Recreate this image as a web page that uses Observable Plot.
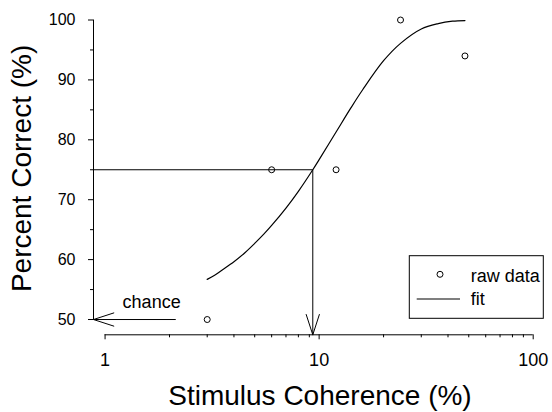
<!DOCTYPE html>
<html>
<head>
<meta charset="utf-8">
<script src="https://cdn.jsdelivr.net/npm/d3@7"></script>
<script src="https://cdn.jsdelivr.net/npm/@observablehq/plot@0.6"></script>
<style>
  html, body { margin: 0; padding: 0; background: #fff; }
  svg { display: block; }
</style>
</head>
<body>
<div id="chart"></div>
<script>
// ---- data ----
const coherence = [3, 6, 12, 24, 48];
const percentCorrect = [50, 75, 75, 100, 94];

const fitCoherence = [3, 3.25, 3.5, 4, 4.5, 5, 5.5, 6, 7, 8, 9.34, 10, 12, 14, 16, 20, 24, 30, 36, 42, 48];
const fitPercent   = [56.7, 57.4, 58.2, 59.65, 61.15, 62.7, 64.2, 65.7, 68.6, 71.4, 75.0, 76.7, 81.3, 85.2, 88.4, 93.2, 96.1, 98.5, 99.4, 99.8, 99.9];

const threshold = 9.34;
const thresholdLevel = 75;
const chanceLevel = 50;
const chanceArrowStart = 2.13;
const chanceLabel = "chance";
const chanceLabelX = 1.65;
const chanceLabelY = 52.85;

const xMajorTicks = [1, 10, 100];
const xMinorTicks = [2, 3, 4, 5, 6, 7, 8, 9, 20, 30, 40, 50, 60, 70, 80, 90];
const yMajorTicks = [50, 60, 70, 80, 90, 100];
const yMinorTicks = [55, 65, 75, 85, 95];

const xTitle = "Stimulus Coherence (%)";
const yTitle = "Percent Correct (%)";
const legendLabels = ["raw data", "fit"];

const xDomain = [0.883, 100];
const yDomain = [47.45, 100];

// ---- tables ----
const points = coherence.map((c, i) => ({c, p: percentCorrect[i]}));
const fit = fitCoherence.map((c, i) => ({c, p: fitPercent[i]}));

const font = "'Liberation Sans', Arial, Helvetica, sans-serif";

const chart = Plot.plot({
  width: 552,
  height: 412,
  marginLeft: 93,
  marginRight: 19.3,
  marginTop: 19.5,
  marginBottom: 77.7,
  style: {fontFamily: font, background: "#fff", color: "#000", overflow: "visible"},
  x: {type: "log", domain: xDomain},
  y: {domain: yDomain},
  marks: [
    // y axis
    Plot.axisY(yMajorTicks, {tickSize: 5, tickPadding: 13, fontSize: 16, label: null, tickFormat: d => String(d), stroke: "#000", strokeWidth: 1}),
    Plot.axisY(yMinorTicks, {tickSize: 3, tickFormat: () => "", label: null, stroke: "#000", strokeWidth: 1}),
    Plot.ruleX([xDomain[0]], {y1: 50, y2: 100, stroke: "#000", strokeWidth: 1}),
    // x axis
    Plot.axisX(xMajorTicks, {tickSize: 5, tickPadding: 13, fontSize: 18, label: null, tickFormat: d => String(d), stroke: "#000", strokeWidth: 1}),
    Plot.axisX(xMinorTicks, {tickSize: 3, tickFormat: () => "", label: null, stroke: "#000", strokeWidth: 1}),
    Plot.ruleY([yDomain[0]], {x1: 1, x2: 100, stroke: "#000", strokeWidth: 1}),
    // axis titles
    Plot.text([xTitle], {text: d => d, frameAnchor: "bottom", textAnchor: "middle", lineAnchor: "middle", dx: 6.6, dy: 61, fontSize: 28, fill: "#000"}),
    Plot.text([yTitle], {text: d => d, frameAnchor: "left", textAnchor: "middle", lineAnchor: "middle", rotate: -90, dx: -71.5, dy: -9, fontSize: 28, fill: "#000"}),
    // threshold lines
    Plot.ruleY([thresholdLevel], {x1: xDomain[0], x2: threshold, stroke: "#000", strokeWidth: 1}),
    Plot.arrow([{x: threshold}], {x1: "x", x2: "x", y1: thresholdLevel, y2: yDomain[0], headLength: 32, headAngle: 36, stroke: "#000", strokeWidth: 1}),
    // chance arrow
    Plot.arrow([{y: chanceLevel}], {x1: chanceArrowStart, x2: xDomain[0], y1: "y", y2: "y", headLength: 32, headAngle: 36, stroke: "#000", strokeWidth: 1}),
    Plot.text([{x: chanceLabelX, y: chanceLabelY, t: chanceLabel}], {x: "x", y: "y", text: "t", fontSize: 18, fill: "#000"}),
    // fit curve
    Plot.line(fit, {x: "c", y: "p", curve: "catmull-rom", stroke: "#000", strokeWidth: 1.2}),
    // raw data
    Plot.dot(points, {x: "c", y: "p", r: 3, stroke: "#000", fill: "none", strokeWidth: 1})
  ]
});

document.getElementById("chart").appendChild(chart);

// ---- legend box (drawn inside the plot, lower right) ----
const svg = d3.select(chart);
const lg = svg.append("g").attr("font-family", font).attr("font-size", 18).attr("text-anchor", "start");
lg.append("rect").attr("x", 409.3).attr("y", 255.7).attr("width", 134).attr("height", 62.6)
  .attr("fill", "#fff").attr("stroke", "#000").attr("stroke-width", 1);
lg.append("circle").attr("cx", 440).attr("cy", 274.3).attr("r", 3)
  .attr("fill", "none").attr("stroke", "#000").attr("stroke-width", 1);
lg.append("text").attr("x", 470.7).attr("y", 281.7).attr("fill", "#000").attr("text-anchor", "start").text(legendLabels[0]);
lg.append("line").attr("x1", 416.7).attr("x2", 460).attr("y1", 299).attr("y2", 299)
  .attr("stroke", "#000").attr("stroke-width", 1.2);
lg.append("text").attr("x", 470.7).attr("y", 305).attr("fill", "#000").attr("text-anchor", "start").text(legendLabels[1]);
</script>
</body>
</html>
